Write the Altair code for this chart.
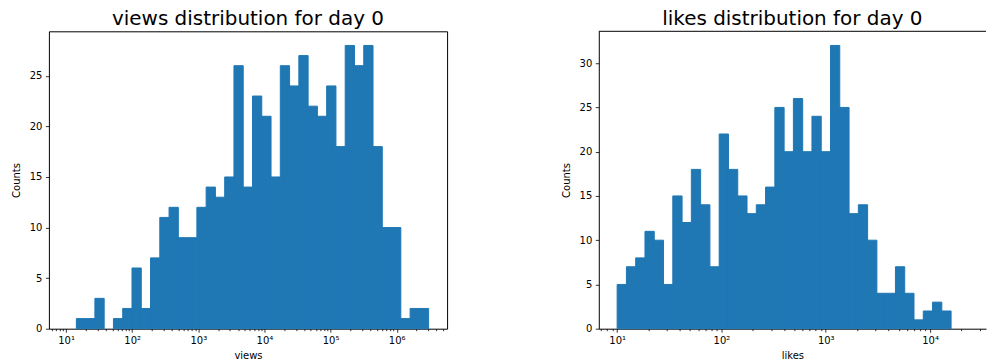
import altair as alt
import numpy as np
import pandas as pd

# ---- data ----
views_counts = [1, 1, 3, 0, 1, 2, 6, 2, 7, 11, 12, 9, 9, 12, 14, 13, 15, 26, 14, 23,
                21, 15, 26, 24, 27, 22, 21, 24, 18, 28, 26, 28, 18, 10, 10, 1, 2, 2]
likes_counts = [5, 7, 8, 11, 10, 5, 15, 12, 18, 14, 7, 22, 18, 15, 13, 14, 16, 25, 20, 26,
                20, 24, 20, 32, 25, 13, 14, 10, 4, 4, 7, 4, 1, 2, 3, 2]
views_range = [14.3, 3.04e6]      # min / max of the data (log-spaced bins)
likes_range = [10, 15900]
views_xdomain = [10 ** 0.74, 10 ** 6.762]
likes_xdomain = [10 ** 0.824, 10 ** 4.536]
views_yticks = [0, 5, 10, 15, 20, 25]
likes_yticks = [0, 5, 10, 15, 20, 25, 30]
views_ymax = 29.4
likes_ymax = 33.6
titles = ["views distribution for day 0", "likes distribution for day 0"]
xlabels = ["views", "likes"]

FONT = "DejaVu Sans"
BLUE = "#1f77b4"
SUP = "⁰¹²³⁴⁵⁶⁷⁸⁹"


def hist_df(counts, rng):
    edges = np.logspace(np.log10(rng[0]), np.log10(rng[1]), len(counts) + 1)
    return pd.DataFrame({"lo": edges[:-1], "hi": edges[1:], "count": counts})


def log_ticks(domain):
    vals = []
    for k in range(0, 8):
        for m in range(1, 10):
            v = m * 10 ** k
            if domain[0] <= v <= domain[1]:
                vals.append(v)
    return vals


def majors(domain):
    return [10 ** k for k in range(0, 8) if domain[0] <= 10 ** k <= domain[1]]


def label_expr(domain):
    expr = "''"
    for v in majors(domain):
        k = int(round(np.log10(v)))
        expr = f"datum.value == {v} ? '10{SUP[k]}' : (" + expr + ")"
    return expr


def panel(counts, rng, xdomain, ymax, yticks, title, xlabel, width, height, open_right):
    df = hist_df(counts, rng)
    test = " || ".join(f"datum.value == {v}" for v in majors(xdomain))
    xaxis = alt.Axis(
        values=log_ticks(xdomain), labelExpr=label_expr(xdomain),
        tickSize={"condition": {"test": test, "value": 3.5}, "value": 2},
        tickColor="black", tickWidth=0.8, labelColor="black", labelFontSize=10,
        labelFont=FONT, labelPadding=3, labelOverlap=False, labelFlush=False,
        labelBound=False, grid=False, domain=open_right, domainColor="black",
        domainWidth=1, title=xlabel, titleFont=FONT, titleFontSize=10,
        titleFontWeight="normal", titleColor="black", titlePadding=5,
    )
    yaxis = alt.Axis(
        values=yticks, tickSize=3.5, tickColor="black", tickWidth=0.8,
        labelColor="black", labelFontSize=10, labelFont=FONT, labelPadding=3.5,
        grid=False, domain=open_right, domainColor="black", domainWidth=1,
        title="Counts", titleFont=FONT, titleFontSize=10, titleFontWeight="normal",
        titleColor="black", titlePadding=8,
    )
    bars = alt.Chart(df).transform_filter("datum.count > 0").mark_rect(
        color=BLUE, stroke=BLUE, strokeWidth=1).encode(
        x=alt.X("lo:Q", scale=alt.Scale(type="log", domain=xdomain, nice=False), axis=xaxis),
        x2="hi:Q",
        y=alt.Y("count:Q", scale=alt.Scale(domain=[0, ymax], nice=False, zero=True), axis=yaxis),
        y2=alt.datum(0),
    )
    ttl = alt.TitleParams(text=title, font=FONT, fontSize=20, fontWeight="normal",
                          color="black", anchor="middle", baseline="alphabetic", offset=-14)
    if open_right:
        top = alt.Chart(pd.DataFrame({"a": [0]})).mark_rule(color="black", strokeWidth=1).encode(
            x=alt.value(0), x2=alt.value(width), y=alt.value(0))
        return alt.layer(bars, top).properties(
            width=width, height=height, title=ttl,
            view=alt.ViewBackground(stroke="transparent"))
    return bars.properties(width=width, height=height, title=ttl)


left = panel(views_counts, views_range, views_xdomain, views_ymax, views_yticks,
             titles[0], xlabels[0], 399, 298, False)
right = panel(likes_counts, likes_range, likes_xdomain, likes_ymax, likes_yticks,
              titles[1], xlabels[1], 388, 298, True)

chart = alt.hconcat(left, right, spacing=152, bounds="flush").configure(
    padding={"left": 10, "top": 8, "right": 0, "bottom": 0},
    font=FONT, background="white",
).configure_view(stroke="black", strokeWidth=1)

chart.save("out.html", embed_options={"renderer": "svg", "actions": False})
